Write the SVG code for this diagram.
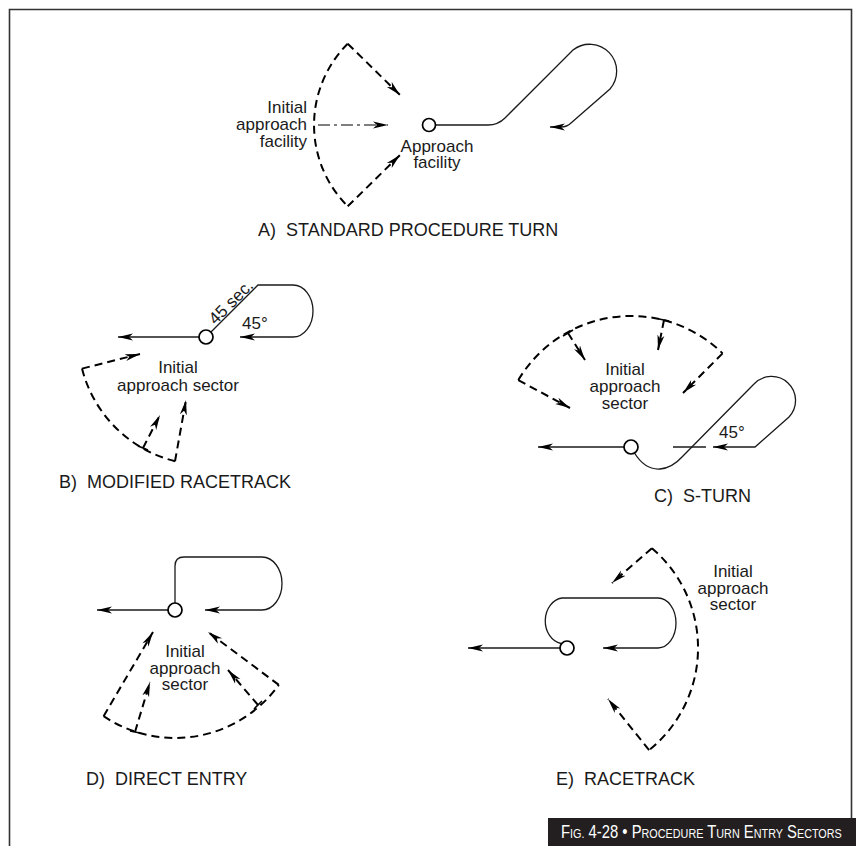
<svg xmlns="http://www.w3.org/2000/svg" width="856" height="846" viewBox="0 0 856 846">
<defs>
<marker id="ah" markerUnits="userSpaceOnUse" markerWidth="16" markerHeight="10" refX="15" refY="5" orient="auto" viewBox="0 0 16 10">
<path d="M0,1.5 L15,5 L0,8.5 L4,5 Z" fill="#000"/>
</marker>
<style>
text{font-family:"Liberation Sans",Arial,sans-serif;fill:#1a1a1a}
.lbl{font-size:17px}
.mid{text-anchor:middle}
.end{text-anchor:end}
.ttl{font-size:18px}
.trk{fill:none;stroke:#1a1a1a;stroke-width:1.3}
.sec{fill:none;stroke:#000;stroke-width:2;stroke-dasharray:8 5}
.rad{fill:none;stroke:#000;stroke-width:2;stroke-dasharray:8 5;marker-end:url(#ah)}
.arr{fill:none;stroke:#1a1a1a;stroke-width:1.3;marker-end:url(#ah)}
.tick{stroke:#000;stroke-width:1.6}
.fac{fill:#fff;stroke:#000;stroke-width:1.7}
.cap{font-family:"Liberation Sans",Arial,sans-serif;fill:#fff;font-size:18.5px}
.sc{font-size:13.5px}
</style>
</defs>
<rect width="856" height="846" fill="#fff"/>
<path d="M9.5,846 L9.5,9.5 L851.5,9.5 L851.5,818" fill="none" stroke="#333" stroke-width="1.6"/>

<g id="panelA">
<path class="sec" d="M347.7,43.7 A115,115 0 0 0 347.7,206.3"/>
<path class="rad" d="M347.7,43.7 L400,95"/>
<path class="rad" d="M347.7,206.3 L400,155"/>
<path d="M318,125 L388,125" fill="none" stroke="#555" stroke-width="1.3" stroke-dasharray="12 4 3 4" marker-end="url(#ah)"/>
<path class="arr" d="M435.5,125 L488,125 Q498,125 505,118 L573,50 A27,27 0 0 1 610,89 L571,123 Q567,127 561,127 L550,127"/>
<circle class="fac" cx="429" cy="125" r="6.5"/>
<text class="lbl end" x="307" y="113">Initial</text>
<text class="lbl end" x="307" y="130">approach</text>
<text class="lbl end" x="307" y="147">facility</text>
<text class="lbl mid" x="437" y="152">Approach</text>
<text class="lbl mid" x="437" y="168">facility</text>
<text class="ttl" x="258" y="236" xml:space="preserve">A)  STANDARD PROCEDURE TURN</text>
</g>

<g id="panelB">
<path class="sec" d="M82,368.6 A128,128 0 0 0 175,461.2"/>
<path class="rad" d="M82,368.6 L140,354"/>
<path class="rad" d="M175,461.2 L186,400"/>
<path class="rad" d="M143,448 L160,415"/>
<path class="tick" d="M138,446 L148,450"/>
<path class="arr" d="M199,337 L118,337"/>
<path class="arr" d="M211,332 L258,285 L293,285 A20,26 0 0 1 293,337 L240,337"/>
<circle class="fac" cx="206" cy="337" r="7"/>
<text class="lbl mid" transform="translate(235,306) rotate(-45)">45 sec.</text>
<text class="lbl" x="242" y="329">45°</text>
<text class="lbl mid" x="178" y="373">Initial</text>
<text class="lbl mid" x="178" y="391">approach sector</text>
<text class="ttl" x="59" y="488" xml:space="preserve">B)  MODIFIED RACETRACK</text>
</g>

<g id="panelC">
<path class="sec" d="M518.3,380.1 A131,131 0 0 1 722.6,353.4"/>
<path class="rad" d="M518.3,380.1 L570,408"/>
<path class="rad" d="M722.6,353.4 L683,393"/>
<path class="rad" d="M568,333 L585,360"/>
<path class="tick" d="M563,336 L573,330"/>
<path class="rad" d="M664,320 L658,350"/>
<path class="tick" d="M659,319 L669,321"/>
<path class="arr" d="M624,447 L538,447"/>
<path class="trk" d="M673,447 L706,447"/>
<path class="arr" d="M634.5,453 Q645,470 660,469 Q672,468 682,457 L754,384 A24,24 0 1 1 789,417 L755,447 L713,447"/>
<circle class="fac" cx="631" cy="447" r="7"/>
<text class="lbl" x="719" y="438">45°</text>
<text class="lbl mid" x="625" y="375">Initial</text>
<text class="lbl mid" x="625" y="392">approach</text>
<text class="lbl mid" x="625" y="409">sector</text>
<text class="ttl" x="654" y="502" xml:space="preserve">C)  S-TURN</text>
</g>

<g id="panelD">
<path class="sec" d="M103.6,716.2 A128,128 0 0 0 278.8,684.9"/>
<path class="rad" d="M103.6,716.2 L153,632"/>
<path class="rad" d="M278.8,684.9 L208,632"/>
<path class="rad" d="M135,732 L150,682"/>
<path class="tick" d="M130,731 L140,733"/>
<path class="rad" d="M258,705 L228,670"/>
<path class="tick" d="M254,709 L262,701"/>
<path class="arr" d="M168,610 L97,610"/>
<path class="arr" d="M175,603 L175,566 Q175,557 184,557 L262,557 A20,26.5 0 0 1 262,610 L205,610"/>
<circle class="fac" cx="175" cy="610" r="7"/>
<text class="lbl mid" x="185" y="657">Initial</text>
<text class="lbl mid" x="185" y="674">approach</text>
<text class="lbl mid" x="185" y="690">sector</text>
<text class="ttl" x="86" y="785" xml:space="preserve">D)  DIRECT ENTRY</text>
</g>

<g id="panelE">
<path class="sec" d="M651.9,548.2 A131,131 0 0 1 649.1,750.1"/>
<path class="rad" d="M651.9,548.2 L612,583"/>
<path class="rad" d="M649.1,750.1 L608,699"/>
<path class="arr" d="M560,648 L468,648"/>
<path class="arr" d="M561,643.5 A19,23 0 0 1 562,598 L658,598 A18,25 0 0 1 658,648 L603,648"/>
<circle class="fac" cx="567" cy="648" r="7"/>
<text class="lbl mid" x="733" y="577">Initial</text>
<text class="lbl mid" x="733" y="594">approach</text>
<text class="lbl mid" x="733" y="610">sector</text>
<text class="ttl" x="556" y="785" xml:space="preserve">E)  RACETRACK</text>
</g>

<g id="caption">
<rect x="548" y="818" width="308" height="28" fill="#231f20"/>
<g transform="translate(561,838) scale(0.8,1)">
<text class="cap" x="0" y="0" textLength="351" lengthAdjust="spacing">F<tspan class="sc">IG.</tspan> 4-28 • P<tspan class="sc">ROCEDURE</tspan> T<tspan class="sc">URN</tspan> E<tspan class="sc">NTRY</tspan> S<tspan class="sc">ECTORS</tspan></text>
</g>
</g>
</svg>
